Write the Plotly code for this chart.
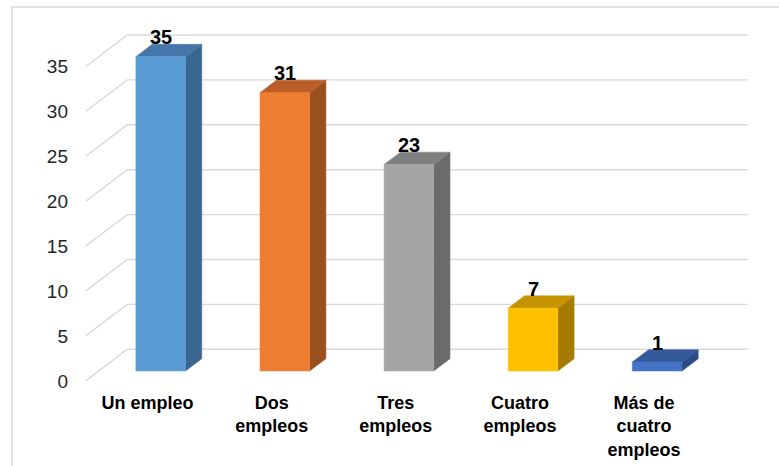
import plotly.graph_objects as go

# ---- data ----
categories = ["Un empleo", "Dos<br>empleos", "Tres<br>empleos", "Cuatro<br>empleos", "Más de<br>cuatro<br>empleos"]
values = [35, 31, 23, 7, 1]
tick_values = [0, 5, 10, 15, 20, 25, 30, 35]
tick_labels = ["0", "5", "10", "15", "20", "25", "30", "35"]

# ---- styles ----
front_colors = ["#5B9BD5", "#ED7D31", "#A5A5A5", "#FFC000", "#4472C4"]
top_colors = ["#4677AB", "#B85E26", "#808080", "#C49300", "#345A9C"]
side_colors = ["#3A6690", "#9A4F1E", "#6B6B6B", "#A57C00", "#2C4C86"]
grid_color = "#D9D9D9"

# oblique projection parameters (in axis units)
DX = 0.336   # x shift for full depth
DY = 3.53    # y shift for full depth
ZA = 0.315   # bar front depth
ZB = 0.705   # bar back depth
BAR_W = 0.40
X_LEFT, X_RIGHT = -0.5, 4.5

fig = go.Figure()

# gridlines: floor diagonals + back wall lines
gx, gy = [], []
for t in tick_values:
    gx += [X_LEFT, X_LEFT + DX, X_RIGHT + DX, None]
    gy += [t, t + DY, t + DY, None]
fig.add_trace(go.Scatter(x=gx, y=gy, mode="lines", line=dict(color=grid_color, width=1.4),
                         hoverinfo="skip", showlegend=False, cliponaxis=False))


def face(xs, ys, color):
    fig.add_trace(go.Scatter(x=xs + [xs[0]], y=ys + [ys[0]], fill="toself", fillcolor=color,
                             mode="lines", line=dict(color=color, width=0.5),
                             hoverinfo="skip", showlegend=False))


dz = ZB - ZA
for i, v in enumerate(values):
    c = i + ZA * DX
    x0, x1 = c - BAR_W / 2, c + BAR_W / 2
    base = ZA * DY
    ox, oy = dz * DX, dz * DY
    # side face
    face([x1, x1, x1 + ox, x1 + ox], [base, v + base, v + base + oy, base + oy], side_colors[i])
    # top face
    face([x0, x1, x1 + ox, x0 + ox], [v + base, v + base, v + base + oy, v + base + oy], top_colors[i])
    # front face
    face([x0, x1, x1, x0], [base, base, v + base, v + base], front_colors[i])
    fig.add_annotation(x=c, y=v + ZB * DY, text="<b>%d</b>" % v, showarrow=False,
                       yanchor="bottom", xanchor="center", yshift=-6,
                       font=dict(family="Liberation Sans, Arial", size=20, color="#000000"))

fig.update_layout(
    width=779, height=466,
    margin=dict(l=86, r=29, t=22, b=82),
    paper_bgcolor="white", plot_bgcolor="white",
    font=dict(family="Liberation Sans, Arial", color="#000000"),
    xaxis=dict(range=[-0.496, 4.854], tickmode="array", tickvals=list(range(len(categories))),
               ticktext=["<b>%s</b>" % c for c in categories], automargin=False,
               showgrid=False, zeroline=False, showline=False, ticks="",
               tickfont=dict(size=18, color="#000000"), ticklabelstandoff=6),
    yaxis=dict(range=[-0.334, 39.98], tickmode="array", tickvals=tick_values, ticktext=tick_labels,
               automargin=False, showgrid=False, zeroline=False, showline=False, ticks="",
               tickfont=dict(size=19, color="#262626"), ticklabelstandoff=17),
    shapes=[dict(type="rect", xref="paper", yref="paper", x0=-0.1114, x1=1.3, y0=-0.6, y1=1.0414,
                 line=dict(color="#D9D9D9", width=1.5), fillcolor="rgba(0,0,0,0)", layer="below")],
)

fig.write_html("out.html")
